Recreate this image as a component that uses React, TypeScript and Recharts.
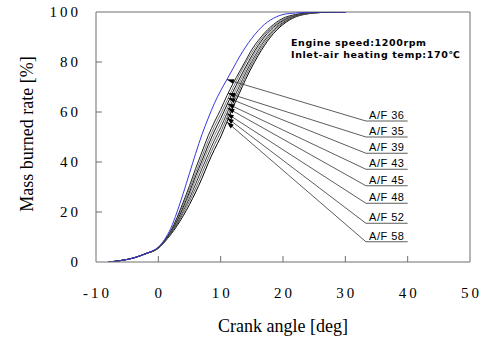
import {
  LineChart,
  Line,
  XAxis,
  YAxis,
  ReferenceLine,
  ReferenceDot,
  Label,
} from "recharts";

// crank angle samples shared by all curves [deg]
const crankAngle = [
  -8, -6, -4, -2, 0, 1, 2, 3, 4, 5, 6, 7, 8, 9, 10, 11, 12, 13, 14, 15, 16, 17,
  18, 20, 22, 24, 26, 28, 30,
];

// mass burned rate [%] for each air/fuel ratio
const af36 = [0, 0.6, 1.6, 3.4, 6, 9, 13.5, 20, 27.5, 35.5, 43.5, 51, 57.5, 63.5, 68.5, 73, 77.5, 82, 86, 89.5, 92.5, 95, 96.8, 99, 99.6, 99.9, 100, 100, 100];
const af35 = [0, 0.6, 1.6, 3.4, 5.8, 8.6, 12.5, 17.8, 24, 30.5, 37.5, 44, 50.5, 56, 61, 66.5, 71.5, 76, 80.5, 85, 88.5, 91.5, 94, 97.5, 99, 99.7, 99.9, 100, 100];
const af39 = [0, 0.6, 1.6, 3.4, 5.7, 8.5, 12.2, 17.2, 23, 29.2, 35.8, 42.2, 48.5, 54.2, 59.2, 64.5, 69.8, 74.8, 79.5, 83.8, 87.5, 90.8, 93.4, 97, 98.8, 99.6, 99.9, 100, 100];
const af43 = [0, 0.6, 1.6, 3.4, 5.7, 8.4, 12, 16.5, 22, 28, 34.5, 40.5, 46.7, 52.4, 57.4, 62.8, 68.2, 73.2, 78, 82.5, 86.5, 90, 92.8, 96.6, 98.6, 99.5, 99.9, 100, 100];
const af45 = [0, 0.6, 1.6, 3.4, 5.6, 8.3, 11.8, 16, 21, 26.8, 33, 39, 45, 50.5, 55.6, 61, 66.6, 71.8, 76.8, 81.5, 85.5, 89, 92, 96.2, 98.5, 99.4, 99.8, 100, 100];
const af48 = [0, 0.6, 1.6, 3.3, 5.6, 8.2, 11.5, 15.5, 20.5, 25.5, 31.3, 37.3, 43.1, 48.7, 53.7, 59.4, 65, 70.3, 75.6, 80.3, 84.5, 88.4, 91.5, 95.8, 98.3, 99.4, 99.8, 100, 100];
const af52 = [0, 0.6, 1.6, 3.3, 5.5, 8.1, 11.2, 15, 19.5, 24.3, 29.6, 35.4, 41.3, 46.9, 51.9, 57.7, 63.5, 68.9, 74.3, 79.2, 83.5, 87.4, 90.8, 95.4, 98.1, 99.3, 99.8, 100, 100];
const af58 = [0, 0.6, 1.6, 3.3, 5.5, 8, 11, 14.5, 18.5, 23, 28, 33.5, 39.5, 45, 50, 56, 62, 67.5, 73, 78, 82.5, 86.5, 90, 95, 98, 99.3, 99.8, 100, 100];

const afNames = ["A/F 36", "A/F 35", "A/F 39", "A/F 43", "A/F 45", "A/F 48", "A/F 52", "A/F 58"];
const afValues = [af36, af35, af39, af43, af45, af48, af52, af58];
const afColors = ["#3838dc", "#222222", "#7a7a7a", "#111111", "#8a8a8a", "#333333", "#666666", "#000000"];

// arrow tips on the curves and the underlined labels they point to
const arrowAngle = [11.0, 11.2, 11.2, 11.1, 11.1, 11.0, 11.0, 11.0];
const arrowValue = [73, 67.5, 65.6, 63.3, 61.6, 59.4, 57.7, 56];
const labelLineY = [56.4, 50, 43.5, 37.1, 30.5, 23.5, 15.5, 8.1];
const labelStart = 33.3;
const labelEnd = 40;

const xTicks = [-10, 0, 10, 20, 30, 40, 50];
const yTicks = [0, 20, 40, 60, 80, 100];

const W = 489;
const H = 342;
const M = { top: 12, right: 19, left: 0, bottom: 0 };
const Y_AXIS_W = 96;
const X_AXIS_H = 80;
const plotW = W - M.right - Y_AXIS_W;
const plotH = H - M.top - X_AXIS_H;

const serif = '"Liberation Serif", "Times New Roman", serif';
const sans = '"Liberation Sans", Arial, sans-serif';
const axisColor = "#6e6e6e";

const curves = afValues.map((vals, i) => ({
  name: afNames[i],
  color: afColors[i],
  data: crankAngle.map((x, j) => ({ x, y: vals[j] })),
}));

const renderXTick = (props: any) => {
  const { x, y, payload } = props;
  return (
    <text
      x={x + 1.5}
      y={y}
      dy="0.71em"
      textAnchor="middle"
      fill="#000"
      fontSize={15}
      fontFamily={serif}
      letterSpacing={3}
    >
      {payload.value}
    </text>
  );
};

const renderYTick = (props: any) => {
  const { x, y, payload } = props;
  return (
    <text
      x={x + 3}
      y={y}
      dy="0.36em"
      textAnchor="end"
      fill="#000"
      fontSize={15}
      fontFamily={serif}
      letterSpacing={3}
    >
      {payload.value}
    </text>
  );
};

// inward tick marks, drawn from the axis point into the plot
const xTickMark = (props: any) => (
  <line
    x1={props.cx}
    x2={props.cx}
    y1={props.cy}
    y2={props.cy - 6}
    stroke={axisColor}
    strokeWidth={1}
  />
);
const yTickMark = (props: any) => (
  <line
    x1={props.cx}
    x2={props.cx + 6}
    y1={props.cy}
    y2={props.cy}
    stroke={axisColor}
    strokeWidth={1}
  />
);

const arrowShape = (i: number) => (props: any) => {
  const { cx, cy } = props;
  const dx = (labelStart - arrowAngle[i]) * (plotW / 60);
  const dy = (arrowValue[i] - labelLineY[i]) * (plotH / 100);
  const len = Math.hypot(dx, dy);
  const ux = dx / len;
  const uy = dy / len;
  const bx = cx + ux * 7;
  const by = cy + uy * 7;
  const pts = [
    `${cx},${cy}`,
    `${bx - uy * 2.4},${by + ux * 2.4}`,
    `${bx + uy * 2.4},${by - ux * 2.4}`,
  ].join(" ");
  return <polygon points={pts} fill="#000" />;
};

const xTitle = (props: any) => {
  const { x, y, width } = props.viewBox;
  return (
    <text
      x={x + width / 2}
      y={y + 70}
      textAnchor="middle"
      fill="#000"
      fontSize={18}
      fontFamily={serif}
    >
      Crank angle [deg]
    </text>
  );
};

const yTitle = (props: any) => {
  const { x, y, height } = props.viewBox;
  const cx = x + 27;
  const cy = y + height / 2 - 3;
  return (
    <text
      x={cx}
      y={cy}
      transform={`rotate(-90 ${cx} ${cy})`}
      textAnchor="middle"
      dominantBaseline="central"
      fill="#000"
      fontSize={18}
      fontFamily={serif}
    >
      Mass burned rate [%]
    </text>
  );
};

export default function App() {
  return (
    <div
      style={{
        position: "absolute",
        left: 0,
        top: 0,
        width: W,
        height: H,
        background: "#fff",
      }}
    >
      <LineChart width={W} height={H} margin={M}>
        <XAxis
          type="number"
          dataKey="x"
          domain={[-10, 50]}
          ticks={xTicks}
          allowDataOverflow
          height={X_AXIS_H}
          tickSize={0}
          tickMargin={25}
          tick={renderXTick}
          axisLine={{ stroke: axisColor }}
          tickLine={false}
        >
          <Label content={xTitle} />
        </XAxis>
        <YAxis
          type="number"
          domain={[0, 100]}
          ticks={yTicks}
          allowDataOverflow
          width={Y_AXIS_W}
          tickSize={0}
          tickMargin={18}
          tick={renderYTick}
          axisLine={{ stroke: axisColor }}
          tickLine={false}
        >
          <Label content={yTitle} />
        </YAxis>

        {/* top and right frame */}
        <ReferenceLine y={100} stroke={axisColor} />
        <ReferenceLine x={50} stroke={axisColor} />

        {xTicks.slice(1, -1).map((t) => (
          <ReferenceDot
            key={"xt" + t}
            x={t}
            y={0}
            r={1}
            shape={xTickMark}
            ifOverflow="visible"
          />
        ))}
        {yTicks.slice(1, -1).map((t) => (
          <ReferenceDot
            key={"yt" + t}
            x={-10}
            y={t}
            r={1}
            shape={yTickMark}
            ifOverflow="visible"
          />
        ))}

        {curves
          .slice()
          .reverse()
          .map((c) => (
            <Line
              key={c.name}
              data={c.data}
              dataKey="y"
              type="monotone"
              stroke={c.color}
              strokeWidth={1}
              dot={false}
              activeDot={false}
              isAnimationActive={false}
            />
          ))}

        {/* leader lines */}
        {afNames.map((n, i) => (
          <ReferenceLine
            key={"lead" + n}
            segment={[
              { x: arrowAngle[i], y: arrowValue[i] },
              { x: labelStart, y: labelLineY[i] },
            ]}
            stroke="#333"
            strokeWidth={0.8}
            ifOverflow="visible"
          />
        ))}
        {/* underlined labels */}
        {afNames.map((n, i) => (
          <ReferenceLine
            key={"lab" + n}
            segment={[
              { x: labelStart, y: labelLineY[i] },
              { x: labelEnd, y: labelLineY[i] },
            ]}
            stroke="#333"
            strokeWidth={0.8}
            ifOverflow="visible"
            label={{
              value: n,
              position: "top",
              offset: 2,
              fill: "#000",
              fontSize: 11,
              fontFamily: sans,
              letterSpacing: 0.5,
            }}
          />
        ))}
        {afNames.map((n, i) => (
          <ReferenceDot
            key={"arr" + n}
            x={arrowAngle[i]}
            y={arrowValue[i]}
            r={3}
            shape={arrowShape(i)}
            ifOverflow="visible"
          />
        ))}
      </LineChart>

      <div
        style={{
          position: "absolute",
          left: 291,
          top: 37,
          fontFamily: '"DejaVu Sans", sans-serif',
          fontWeight: "bold",
          fontSize: 9.5,
          lineHeight: "12px",
          letterSpacing: 0.6,
          whiteSpace: "nowrap",
          color: "#000",
        }}
      >
        <div>Engine speed:1200rpm</div>
        <div>Inlet-air heating temp:170℃</div>
      </div>
    </div>
  );
}
